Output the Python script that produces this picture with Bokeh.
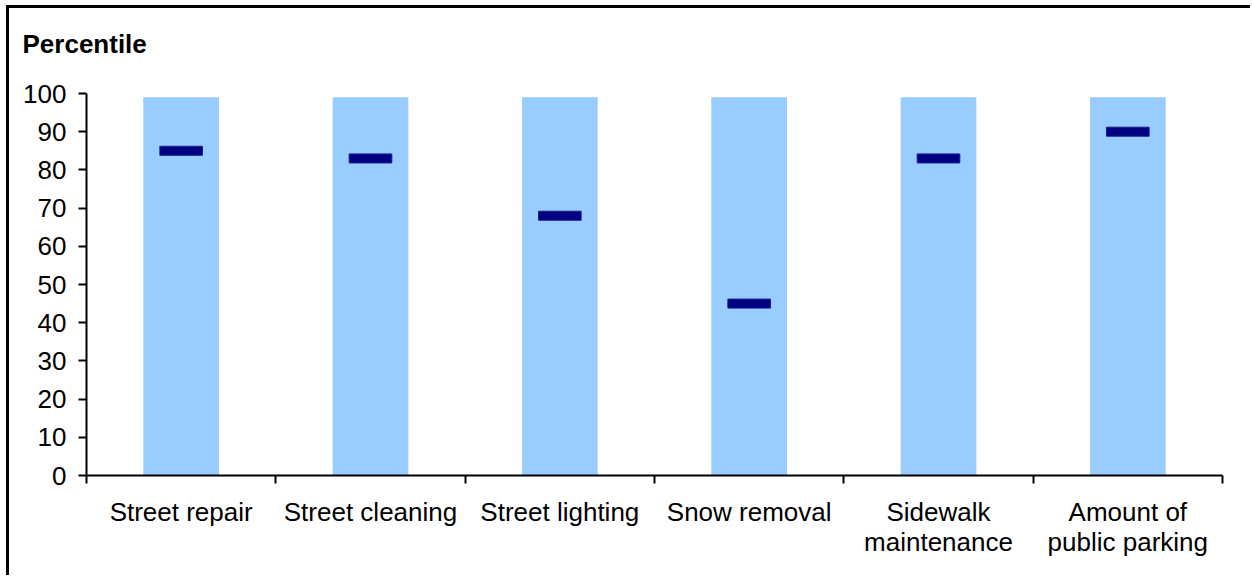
from bokeh.plotting import figure
from bokeh.models import FixedTicker, Range1d, ColumnDataSource
from bokeh.embed import file_html
from bokeh.resources import INLINE

categories = ["Street repair", "Street cleaning", "Street lighting", "Snow removal",
              "Sidewalk\nmaintenance", "Amount of\npublic parking"]
percentile = [85, 83, 68, 45, 83, 90]
range_top = [99, 99, 99, 99, 99, 99]
y_ticks = [0, 10, 20, 30, 40, 50, 60, 70, 80, 90, 100]

FONT = "Liberation Sans"
n = len(categories)
centers = [i + 0.5 for i in range(n)]
src = ColumnDataSource(dict(x=centers, top=range_top, val=percentile))

p = figure(output_backend="svg", toolbar_location=None,
           frame_width=1136, frame_height=382,
           x_range=Range1d(0, n), y_range=Range1d(0, 100),
           min_border_left=77, min_border_top=85, min_border_right=28, min_border_bottom=100)
p.styles = {"border-left": "3px solid black", "border-top": "3px solid black",
            "margin-left": "6px", "margin-top": "5px"}

# a blank second line lifts the title away from the plot area
p.title.text = "Percentile\n\u00a0"
p.title.align = "left"
p.title.vertical_align = "bottom"
p.title.offset = -64
p.title.standoff = 10
p.title.text_line_height = 1.0
p.title.text_font = FONT
p.title.text_font_size = "26px"
p.title.text_font_style = "bold"
p.title.text_color = "black"

p.vbar(x="x", top="top", bottom=0, width=0.4, source=src,
       fill_color="#99CCFF", line_color=None)
p.rect(x="x", y="val", width=0.225, height=9, height_units="screen", source=src,
       fill_color="#000080", line_color="#1a1a8c", line_width=1)

p.grid.visible = False
p.outline_line_color = None
p.background_fill_color = "white"
p.border_fill_color = "white"

# y axis
ya = p.yaxis[0]
ya.ticker = FixedTicker(ticks=y_ticks, minor_ticks=[])
ya.axis_line_width = 2
ya.axis_line_color = "black"
ya.major_tick_line_width = 2
ya.major_tick_out = 8
ya.major_tick_in = 0
ya.minor_tick_line_color = None
ya.major_label_text_font = FONT
ya.major_label_text_font_size = "26px"
ya.major_label_text_color = "black"
ya.major_label_standoff = 12

# x axis
xa = p.xaxis[0]
xa.ticker = FixedTicker(ticks=centers, minor_ticks=list(range(n + 1)))
xa.major_label_overrides = {c: lab for c, lab in zip(centers, categories)}
xa.axis_line_width = 2
xa.axis_line_color = "black"
xa.major_tick_line_color = None
xa.minor_tick_line_color = "black"
xa.minor_tick_line_width = 2
xa.minor_tick_out = 8
xa.minor_tick_in = 0
xa.major_label_text_font = FONT
xa.major_label_text_font_size = "26px"
xa.major_label_text_color = "black"
xa.major_label_text_line_height = 1.02
xa.major_label_standoff = 13

open("out.html", "w").write(file_html(p, INLINE))
